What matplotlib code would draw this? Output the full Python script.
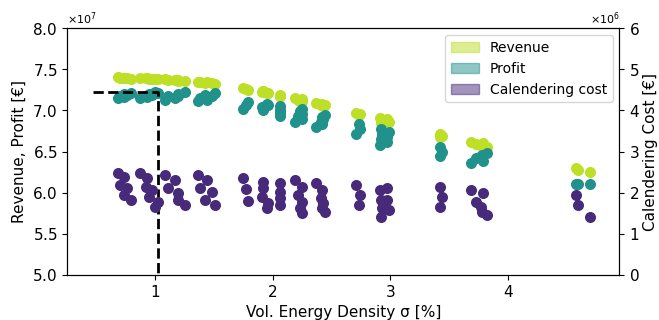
import matplotlib.pyplot as plt
import matplotlib.patches as mpatches
import numpy as np

# design points: vol. energy density [%], revenue [EUR], profit [EUR], calendering cost [EUR]
sigma = [0.68, 0.73, 0.70, 0.76, 0.73, 0.79,
         0.87, 0.93, 0.92, 0.97, 0.95, 1.02, 1.00,
         1.08, 1.17, 1.11, 1.19, 1.19, 1.25,
         1.36, 1.44, 1.38, 1.48, 1.42, 1.51,
         1.75, 1.77, 1.79,
         1.92, 1.92, 1.91, 1.96, 1.95,
         2.06, 2.06, 2.06, 2.06,
         2.19, 2.25, 2.21, 2.25, 2.23, 2.25,
         2.37, 2.42, 2.41, 2.43, 2.42, 2.44,
         2.71, 2.74, 2.73,
         2.91, 2.97, 2.92, 2.97, 2.93, 2.99, 2.92,
         3.42, 3.44, 3.42,
         3.69, 3.79, 3.73, 3.77, 3.78, 3.82,
         4.58, 4.60, 4.70]

revenue = [7.41, 7.40, 7.40, 7.39, 7.39, 7.38,
           7.40, 7.39, 7.39, 7.38, 7.38, 7.38, 7.38,
           7.38, 7.37, 7.37, 7.37, 7.36, 7.36,
           7.35, 7.34, 7.34, 7.33, 7.33, 7.32,
           7.27, 7.26, 7.25,
           7.23, 7.23, 7.22, 7.21, 7.21,
           7.19, 7.18, 7.18, 7.17,
           7.15, 7.14, 7.13, 7.13, 7.12, 7.11,
           7.09, 7.08, 7.07, 7.07, 7.06, 7.06,
           6.97, 6.96, 6.95,
           6.91, 6.89, 6.88, 6.87, 6.87, 6.86, 6.85,
           6.71, 6.69, 6.68,
           6.62, 6.60, 6.59, 6.58, 6.57, 6.56,
           6.30, 6.28, 6.25]

profit = [7.15, 7.16, 7.18, 7.19, 7.20, 7.21,
          7.15, 7.16, 7.18, 7.19, 7.20, 7.21, 7.22,
          7.13, 7.15, 7.17, 7.18, 7.20, 7.22,
          7.11, 7.13, 7.15, 7.17, 7.19, 7.21,
          7.02, 7.06, 7.10,
          7.00, 7.02, 7.04, 7.06, 7.08,
          6.93, 6.97, 7.01, 7.05,
          6.86, 6.90, 6.93, 6.96, 6.99, 7.02,
          6.80, 6.83, 6.86, 6.89, 6.92, 6.95,
          6.71, 6.77, 6.83,
          6.58, 6.62, 6.65, 6.68, 6.71, 6.74, 6.77,
          6.44, 6.50, 6.56,
          6.36, 6.39, 6.42, 6.44, 6.46, 6.48,
          6.10, 6.10, 6.10]

cost = [2.48, 2.38, 2.19, 2.12, 1.95, 1.83,
        2.48, 2.36, 2.14, 2.07, 1.90, 1.78, 1.66,
        2.43, 2.31, 2.12, 2.00, 1.83, 1.70,
        2.43, 2.31, 2.12, 2.02, 1.83, 1.70,
        2.36, 2.09, 1.80,
        2.26, 2.12, 1.90, 1.75, 1.63,
        2.24, 2.02, 1.87, 1.70,
        2.31, 2.14, 1.95, 1.78, 1.63, 1.51,
        2.24, 2.07, 1.87, 1.75, 1.63, 1.53,
        2.19, 1.95, 1.70,
        2.07, 2.12, 1.83, 1.83, 1.63, 1.58, 1.41,
        2.14, 1.90, 1.66,
        2.07, 2.00, 1.78, 1.66, 1.53, 1.46,
        1.95, 1.70, 1.41]

# chosen design (dashed guide)
sigma_sel = 1.02
profit_sel = 7.22
sigma_guide_start = 0.47

c_rev = plt.cm.viridis(0.9)
c_prof = plt.cm.viridis(0.5)
c_cost = plt.cm.viridis(0.12)

fig = plt.figure(figsize=(6.59, 3.2), dpi=100)
ax = fig.add_axes([0.102, 0.141, 0.838, 0.771])
ax2 = ax.twinx()

x = np.array(sigma)
ax.scatter(x, np.array(revenue) * 1e7, color=c_rev, s=48)
ax.scatter(x, np.array(profit) * 1e7, color=c_prof, s=48)
ax.plot([sigma_guide_start, sigma_sel, sigma_sel], [profit_sel * 1e7, profit_sel * 1e7, 5.0e7],
        'k--', lw=2)
ax2.scatter(x, np.array(cost) * 1e6, color=c_cost, s=48)

ax.set_xlim(0.25, 4.95)
ax.set_ylim(5.0e7, 8.0e7)
ax2.set_ylim(0, 6e6)
ax.set_xticks([1, 2, 3, 4])
ax.set_yticks(np.arange(5.0e7, 8.01e7, 0.5e7))
ax2.set_yticks(np.arange(0, 6.01e6, 1e6))

ax.ticklabel_format(axis='y', style='sci', scilimits=(0, 0), useMathText=True)
ax2.ticklabel_format(axis='y', style='sci', scilimits=(0, 0), useMathText=True)
ax.yaxis.get_offset_text().set_fontsize(8)
ax2.yaxis.get_offset_text().set_fontsize(8)
for a in (ax, ax2):
    a.tick_params(labelsize=11)

ax.set_xlabel('Vol. Energy Density σ [%]', fontsize=11)
ax.set_ylabel('Revenue, Profit [€]', fontsize=11)
ax2.set_ylabel('Calendering Cost [€]', fontsize=11, labelpad=2)

handles = [mpatches.Patch(facecolor=c_rev, edgecolor=c_rev, alpha=0.5, label='Revenue'),
           mpatches.Patch(facecolor=c_prof, edgecolor=c_prof, alpha=0.5, label='Profit'),
           mpatches.Patch(facecolor=c_cost, edgecolor=c_cost, alpha=0.5, label='Calendering cost')]
ax2.legend(handles=handles, loc='upper right', fontsize=10)

fig.savefig('out.png', dpi=100)
